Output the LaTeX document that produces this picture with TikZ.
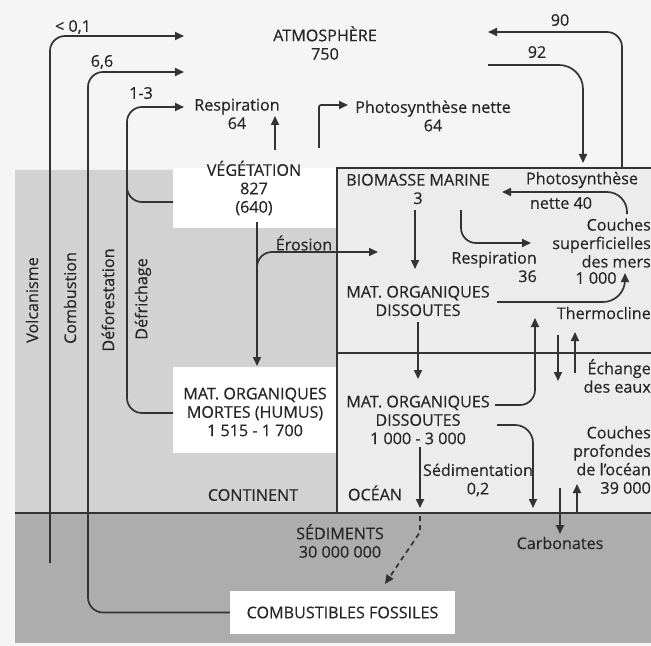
\documentclass[tikz,border=0pt]{standalone}
\usepackage{fontspec}
\setmainfont{Open Sans}[FakeBold=0.35]
\usetikzlibrary{arrows.meta}
\definecolor{txt}{HTML}{262626}
\definecolor{ln}{HTML}{333333}
\definecolor{bgtop}{HTML}{F5F5F5}
\definecolor{bgocean}{HTML}{ECECEC}
\definecolor{bgland}{HTML}{D2D2D2}
\definecolor{bgdark}{HTML}{ADADAD}
\begin{document}
\begin{tikzpicture}[x=1bp,y={(0bp,-1bp)}]
\tikzset{
  lab/.style={font=\fontsize{16.2}{18.5}\selectfont, text=txt, inner sep=0pt, align=center},
  rlab/.style={lab, align=right},
  conn/.style={draw=ln, line width=1.7bp, -{Triangle[length=9bp,width=8bp]}},
  wire/.style={draw=ln, line width=1.7bp},
  frame/.style={draw=ln, line width=1.2bp},
  dashconn/.style={conn, dash pattern=on 5bp off 4bp},
}
\useasboundingbox (0,0) rectangle (651,646);
% backgrounds
\fill[bgtop] (0,0) rectangle (651,646);
\fill[bgocean] (337,168) rectangle (651,513);
\fill[bgland] (15,170) -- (173,170) -- (173,228) -- (337,228) -- (337,513) -- (15,513) -- cycle;
\fill[white] (173,168) rectangle (337,228);
\fill[white] (173,367) rectangle (337,453);
\fill[bgdark] (15,513) rectangle (651,643);
% frames
\draw[frame] (337,513) -- (337,168) -- (651,168);
\draw[frame] (337,353) -- (651,353);
\draw[frame] (15,513) -- (651,513);

% nodes
\node[lab] (atm) at (325,43) {ATMOSPHÈRE\\750};
\node[lab] (resp1) at (237,114) {Respiration\\64};
\node[lab] (photo1) at (433,116) {Photosynthèse nette\\64};
\node[lab] (veg) at (254,188) {VÉGÉTATION\\827\\(640)};
\node[lab] (biom) at (418,189) {BIOMASSE MARINE\\3};
\node[lab] (photo2a) at (582,180) {Photosynthèse};
\node[lab] (photo2b) at (561,203) {nette 40};
\node[rlab, anchor=east] (surf) at (651,243) {Couches\\superficielles\\des mers};
\node[lab] (surfv) at (596,278) {1 000};
\node[lab] (erosion) at (304,243) {Érosion};
\node[rlab, anchor=east] (resp2) at (537,267) {Respiration\\36};
\node[lab] (dis1) at (418,301) {MAT. ORGANIQUES\\DISSOUTES};
\node[rlab, anchor=east] (thermo) at (651,313) {Thermocline};
\node[rlab, anchor=east] (echange) at (651,376) {Échange\\des eaux};
\node[lab] (humus) at (255,412) {MAT. ORGANIQUES\\MORTES (HUMUS)\\1 515 - 1 700};
\node[lab] (dis2) at (418,420) {MAT. ORGANIQUES\\DISSOUTES\\1 000 - 3 000};
\node[rlab, anchor=east] (deep) at (651,460) {Couches\\profondes\\de l'océan\\39 000};
\node[lab] (sedim) at (478,480) {Sédimentation\\0,2};
\node[lab] (ocean) at (375,493) {OCÉAN};
\node[lab] (continent) at (253,495) {CONTINENT};
\node[lab] (sediments) at (340,541) {SÉDIMENTS\\30 000 000};
\node[lab] (carbonates) at (560,543) {Carbonates};
\node[lab, fill=white, minimum width=225bp, minimum height=43bp] (fossil) at (342.5,612.5) {COMBUSTIBLES FOSSILES};
\node[lab] (l01) at (73,27) {< 0,1};
\node[lab] (l66) at (102,62) {6,6};
\node[lab] (l13) at (141,93) {1-3};
\node[lab, rotate=90] (volc) at (32,300) {Volcanisme};
\node[lab, rotate=90] (comb) at (70,298) {Combustion};
\node[lab, rotate=90] (defo) at (108,300) {Déforestation};
\node[lab, rotate=90] (defr) at (143,299) {Défrichage};
\node[lab] (l90) at (560,20) {90};
\node[lab] (l92) at (537,52) {92};

% coordinates for connector ends
\coordinate (volcS) at (50,563);
\coordinate (atmA) at (184,36);
\coordinate (atmB) at (184,72);
\coordinate (atmC) at (184,107);
\coordinate (fosW) at (fossil.west);
\coordinate (humW) at (173,413);
\coordinate (vegW) at (173,202);
\coordinate (vegN) at (275,150);
\coordinate (respS) at (275,116);
\coordinate (vegNE) at (319,148);
\coordinate (photoW) at (348,105);
\coordinate (oceanTop) at (622,168);
\coordinate (atmE) at (488,32);
\coordinate (atmE2) at (488,65);
\coordinate (oceanIn) at (583,163);
\coordinate (surfN) at (627,214);
\coordinate (biomE) at (502,192);
\coordinate (biomS1) at (461,210);
\coordinate (respW) at (531,243);
\coordinate (biomS) at (415,210);
\coordinate (dis1N) at (415,269);
\coordinate (vegS) at (257,222);
\coordinate (humN) at (257,366);
\coordinate (eroB) at (257,272);
\coordinate (eroE) at (378,252);
\coordinate (dis1E) at (497,302);
\coordinate (surfS) at (625,273);
\coordinate (dis1S) at (418,322);
\coordinate (dis2N) at (418,379);
\coordinate (dis2E) at (495,405);
\coordinate (thermS) at (535,318);
\coordinate (exA) at (558,335);
\coordinate (exB) at (558,381);
\coordinate (exC) at (575,373);
\coordinate (exD) at (575,332);
\coordinate (dis2E2) at (497,425);
\coordinate (deepS) at (533,508);
\coordinate (dis2S) at (420,447);
\coordinate (sedN) at (420,508);
\coordinate (sedTop) at (420,516);
\coordinate (fosN) at (385,584);
\coordinate (carbA) at (560,488);
\coordinate (carbB) at (560,534);
\coordinate (carbC) at (577,512);
\coordinate (carbD) at (577,484);

% left flows
\draw[conn, rounded corners=15bp] (volcS) |- (atmA);
\draw[conn, rounded corners=15bp] (fosW) -| (88,72) -- (atmB);
\draw[conn, rounded corners=15bp] (humW) -| (127,107) -- (atmC);
\draw[wire, rounded corners=15bp] (vegW) -| (127,170);
% vegetation
\draw[conn] (vegN) -- (respS);
\draw[conn, rounded corners=2bp] (vegNE) |- (photoW);
\draw[conn] (vegS) -- (humN);
\draw[conn, rounded corners=15bp] (eroB) |- (eroE);
% ocean-atmosphere
\draw[conn, rounded corners=15bp] (oceanTop) |- (atmE);
\draw[conn, rounded corners=24bp] (atmE2) -| (oceanIn);
% ocean interior
\draw[conn, rounded corners=20bp] (surfN) |- (biomE);
\draw[conn, rounded corners=15bp] (biomS1) |- (respW);
\draw[conn] (biomS) -- (dis1N);
\draw[conn, rounded corners=22bp] (dis1E) -| (surfS);
\draw[conn] (dis1S) -- (dis2N);
\draw[conn, rounded corners=15bp] (dis2E) -| (thermS);
\draw[conn] (exA) -- (exB);
\draw[conn] (exC) -- (exD);
\draw[conn, rounded corners=18bp] (dis2E2) -| (deepS);
\draw[conn] (dis2S) -- (sedN);
\draw[dashconn] (sedTop) -- (420,532) -- (fosN);
\draw[conn] (carbA) -- (carbB);
\draw[conn] (carbC) -- (carbD);
\end{tikzpicture}
\end{document}
